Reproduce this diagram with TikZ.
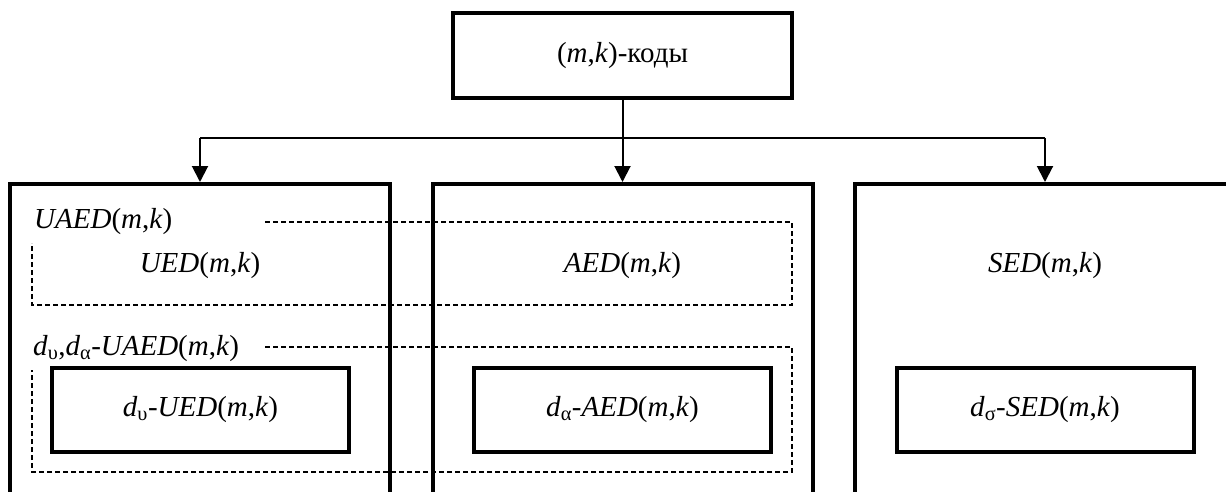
\documentclass[tikz,border=0pt]{standalone}
\usepackage{fontspec}
\setmainfont{Liberation Serif}
\usetikzlibrary{arrows.meta,calc}
\newcommand{\mkpair}{(\textit{m},\textit{k})}
\tikzstyle{block} = [draw, line width=4pt, minimum width=339pt, minimum height=85pt, inner sep=0pt, font=\fontsize{29}{34}\selectfont]
\tikzstyle{family} = [draw, line width=4pt, minimum width=380pt, minimum height=330pt, anchor=north]
\tikzstyle{subclass} = [draw, line width=4pt, minimum width=297pt, minimum height=84pt, inner sep=0pt, font=\fontsize{29}{34}\selectfont]
\tikzstyle{codetext} = [inner sep=0pt, font=\fontsize{29}{34}\selectfont]
\tikzstyle{edge} = [draw, line width=2pt, -{Triangle[width=16pt,length=16pt]}]
\tikzstyle{plainedge} = [draw, line width=2pt]
\tikzstyle{union} = [draw, line width=2pt, dash pattern=on 5pt off 3pt]

\begin{document}
\begin{tikzpicture}[x=1pt, y=-1pt]
    \useasboundingbox (0,0) rectangle (1226,492);
    \clip (0,0) rectangle (1226,492);

    \node[block] (codes) at (622.5,55.5) {\mkpair-коды};

    % three families of codes
    \foreach \pos/\name in {{(200,182)/ued},{(622.5,182)/aed},{(1045,182)/sed}}
        \node[family] (\name) at \pos {};

    \foreach \pos/\name/\title in {{(200,266)/uedname/UED},{(622.5,266)/aedname/AED},{(1045,266)/sedname/SED}}
        \node[codetext] (\name) at \pos {\textit{\title}\mkpair};

    \foreach \pos/\name/\sub/\title in {{(200.5,410)/dued/υ/UED},{(622.5,410)/daed/α/AED},{(1045,410)/dsed/σ/SED}}
        \node[subclass] (\name) at \pos {\textit{d}\textsubscript{\sub}-\textit{\title}\mkpair};

    % unions drawn across the first two families
    \draw[union] (265,222) -- (792,222) -- (792,305) -- (32,305) -- (32,243);
    \draw[union] (265,347) -- (792,347) -- (792,472) -- (32,472) -- (32,370);
    \node[codetext, anchor=west] (uaed) at (34,222) {\textit{UAED}\mkpair};
    \node[codetext, anchor=west] (duaed) at (33,349) {\textit{d}\textsubscript{υ},\textit{d}\textsubscript{α}-\textit{UAED}\mkpair};

    % connect the top block with the families
    \coordinate (split) at (622.5,138);
    \coordinate (splitl) at (200,138);
    \coordinate (splitr) at (1045,138);
    \path[plainedge] (codes) -- (split);
    \path[plainedge] (splitl) -- (splitr);
    \foreach \source/ \dest in {splitl/ued, split/aed, splitr/sed}
        \path[edge] (\source) -- (\dest);

\end{tikzpicture}
\end{document}
